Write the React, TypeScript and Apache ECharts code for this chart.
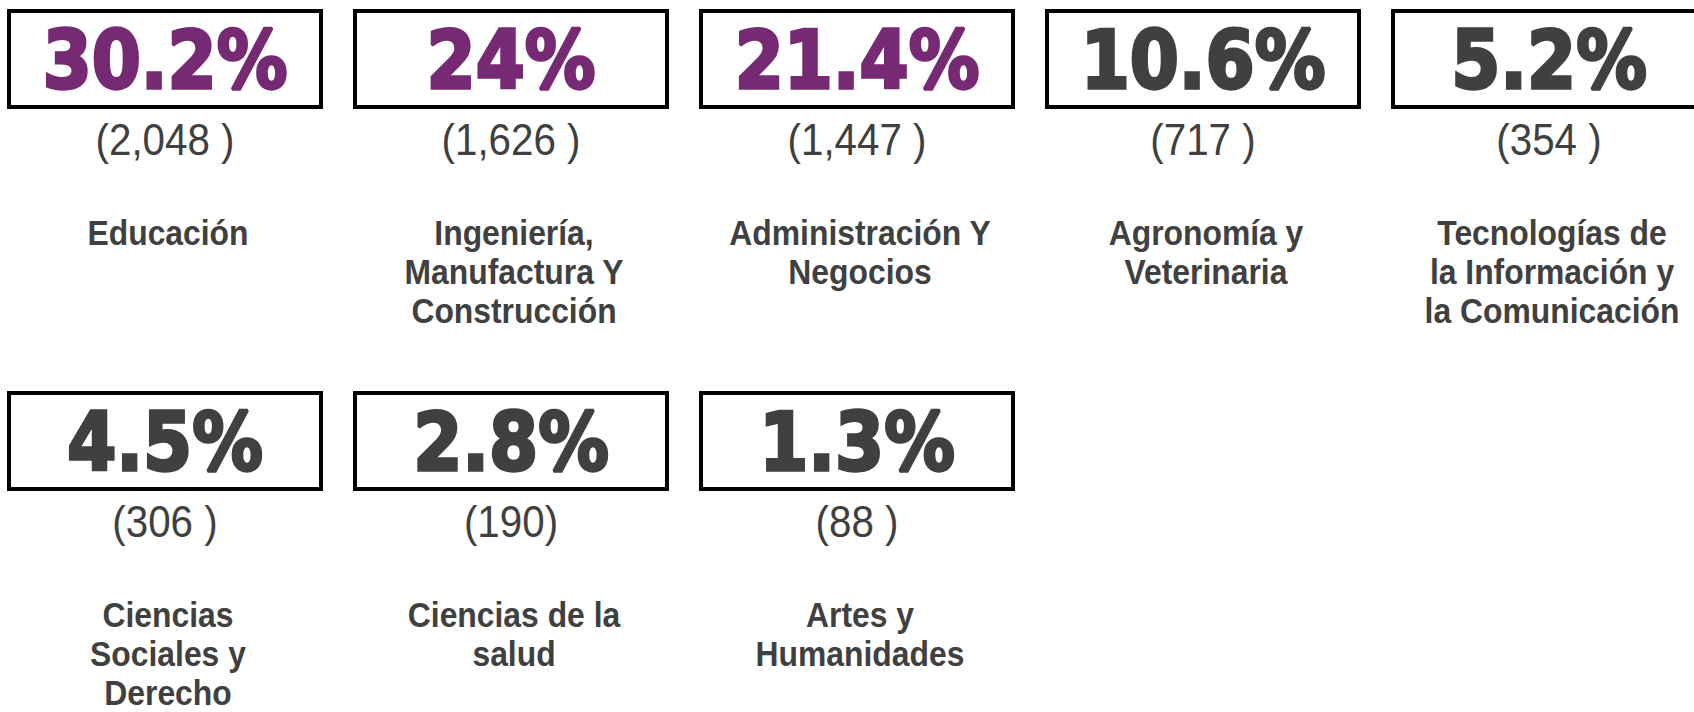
import React, { useEffect, useRef } from "react";
import * as echarts from "echarts";

const categories = [
  "Educación",
  "Ingeniería,\nManufactura Y\nConstrucción",
  "Administración Y\nNegocios",
  "Agronomía y\nVeterinaria",
  "Tecnologías de\nla Información y\nla Comunicación",
  "Ciencias\nSociales y\nDerecho",
  "Ciencias de la\nsalud",
  "Artes y\nHumanidades",
];
const percentages = [30.2, 24, 21.4, 10.6, 5.2, 4.5, 2.8, 1.3];
const countLabels = ["(2,048 )", "(1,626 )", "(1,447 )", "(717 )", "(354 )", "(306 )", "(190)", "(88 )"];

const PURPLE = "#772A74";
const GRAY = "#404040";
const COLS = 5;

export default function App() {
  const ref = useRef<HTMLDivElement>(null);
  useEffect(() => {
    document.body.style.margin = "0";
    const chart = echarts.init(ref.current!, null, { renderer: "svg" });
    const data = percentages.map((v, i) => [i % COLS, Math.floor(i / COLS), v]);
    chart.setOption({
      animation: false,
      backgroundColor: "#ffffff",
      grid: { left: 165, right: 145, top: 59, bottom: 271 },
      xAxis: { type: "value", min: 0, max: 4, show: false },
      yAxis: { type: "value", min: 0, max: 1, inverse: true, show: false },
      series: [
        {
          type: "custom",
          clip: false,
          data,
          renderItem: (params: any, api: any) => {
            const i = params.dataIndex;
            const [cx, cy] = api.coord([api.value(0), api.value(1)]);
            const color = i < 3 ? PURPLE : GRAY;
            return {
              type: "group",
              children: [
                {
                  type: "rect",
                  shape: { x: cx - 156, y: cy - 48, width: 312, height: 96 },
                  style: { fill: "none", stroke: "#000000", lineWidth: 4 },
                },
                {
                  type: "text",
                  x: cx,
                  y: cy + 1,
                  scaleX: 0.98,
                  scaleY: 1.12,
                  style: {
                    text: `${api.value(2)}%`,
                    fill: color,
                    stroke: color,
                    lineWidth: 3,
                    fontFamily: "DejaVu Sans",
                    fontWeight: "bold",
                    fontSize: 72,
                    align: "center",
                    verticalAlign: "middle",
                  },
                },
                {
                  type: "text",
                  x: cx,
                  y: cy + 81,
                  scaleX: 0.96,
                  scaleY: 1.05,
                  style: {
                    text: countLabels[i],
                    fill: GRAY,
                    fontFamily: "Liberation Sans",
                    fontSize: 42,
                    align: "center",
                    verticalAlign: "middle",
                  },
                },
                {
                  type: "text",
                  x: cx + 3,
                  y: cy + 154,
                  scaleX: 0.91,
                  style: {
                    text: categories[i],
                    fill: GRAY,
                    fontFamily: "Liberation Sans",
                    fontWeight: "bold",
                    fontSize: 35,
                    lineHeight: 39,
                    align: "center",
                    verticalAlign: "top",
                  },
                },
              ],
            };
          },
        },
      ],
    });
    return () => chart.dispose();
  }, []);
  return <div ref={ref} style={{ width: 1694, height: 712 }} />;
}
